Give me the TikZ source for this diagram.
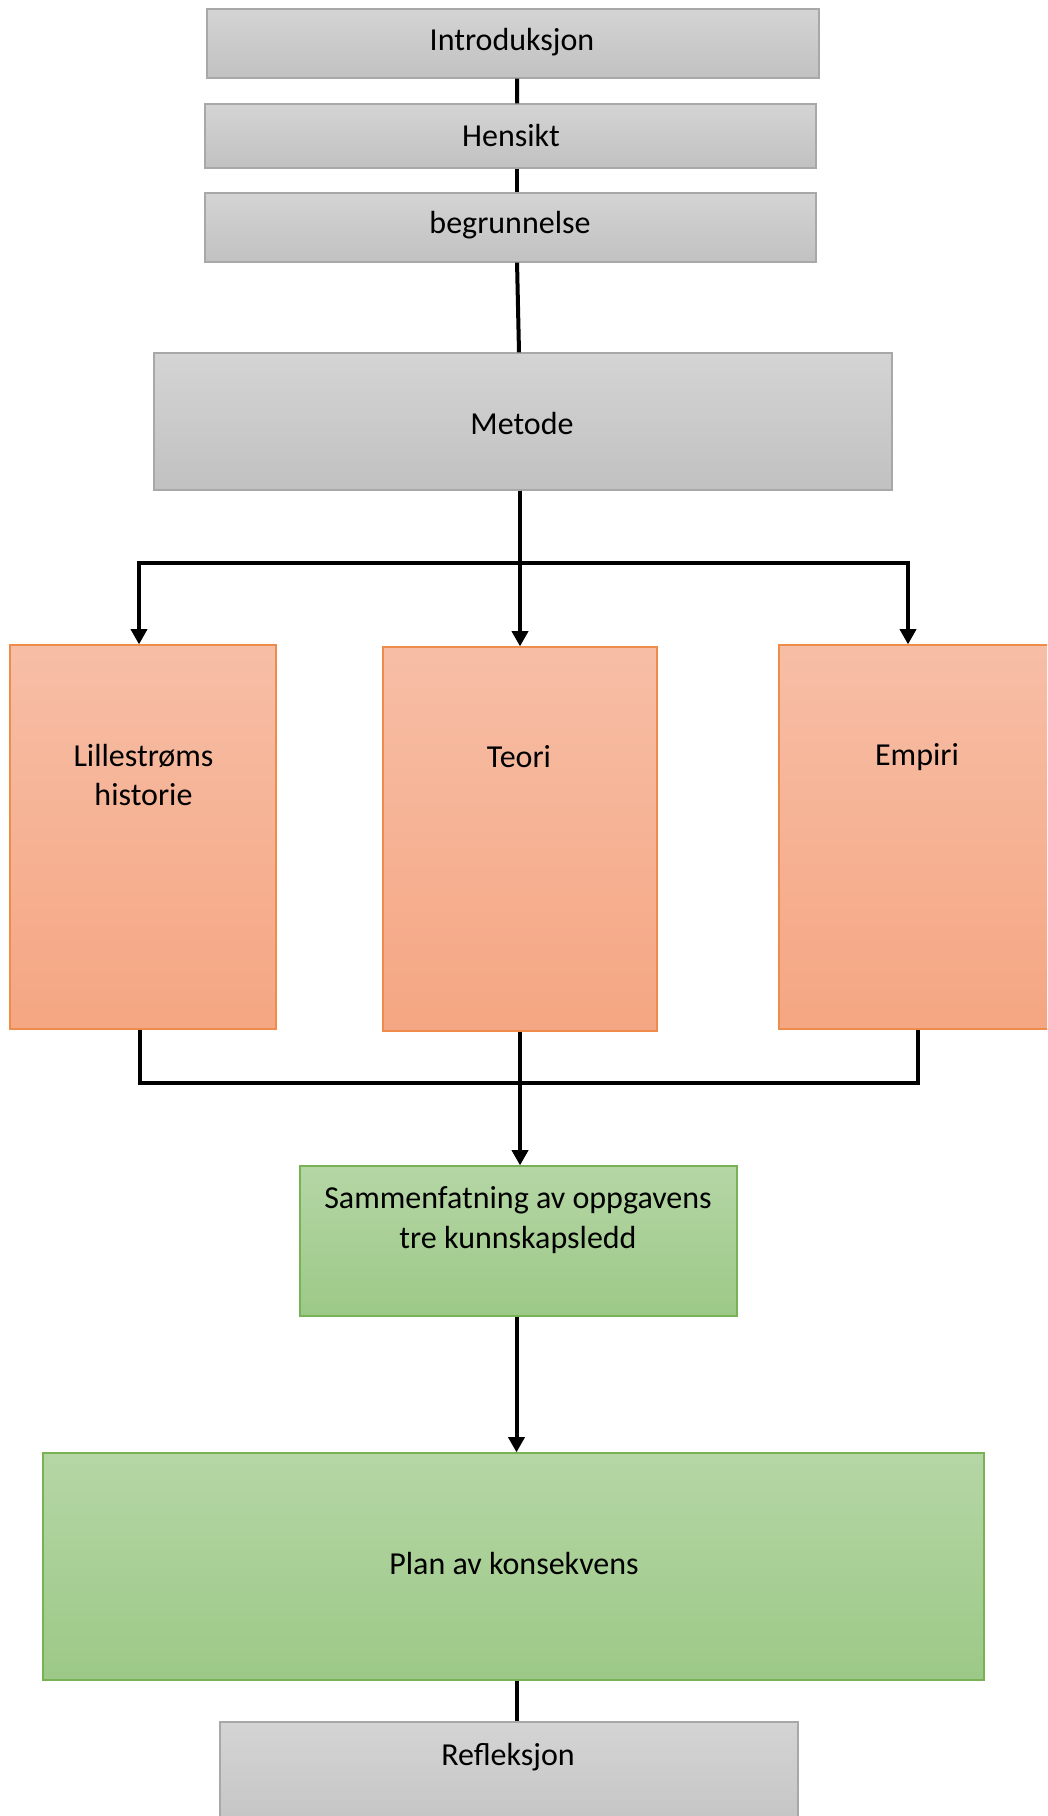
\documentclass[tikz,border=0pt]{standalone}
\usepackage{fontspec}
\setmainfont{Carlito}
\usetikzlibrary{fit,arrows.meta}
\definecolor{grayT}{HTML}{D4D4D4}
\definecolor{grayB}{HTML}{C1C1C1}
\definecolor{grayL}{HTML}{A8A8A8}
\definecolor{orT}{HTML}{F7BEA6}
\definecolor{orB}{HTML}{F5A682}
\definecolor{orL}{HTML}{EF8C4C}
\definecolor{grT}{HTML}{B5D6A5}
\definecolor{grB}{HTML}{9CC987}
\definecolor{grL}{HTML}{78B255}
\begin{document}
\begin{tikzpicture}[x=0.75pt,y=-0.75pt,
  every node/.style={font=\fontsize{24}{29.5}\selectfont, text=black},
  graybox/.style={draw=grayL, line width=0.9pt, top color=grayT, bottom color=grayB, inner sep=0pt},
  orbox/.style={draw=orL, line width=0.9pt, top color=orT, bottom color=orB, inner sep=0pt},
  grbox/.style={draw=grL, line width=0.9pt, top color=grT, bottom color=grB, inner sep=0pt},
  txt/.style={align=center, inner sep=0pt},
  conn/.style={line width=3pt, draw=black},
  arr/.style={conn, -{Triangle[length=11.5pt,width=12pt]}}]
\useasboundingbox (0,0) rectangle (1047,1816);
\clip (0,0) rectangle (1047,1816);
\fill[white] (0,0) rectangle (1047,1816);
% boxes
\node[graybox, fit={(207,9) (819,78)}] (intro) {};
\node[graybox, fit={(205,104) (816,168)}] (hens) {};
\node[graybox, fit={(205,193) (816,262)}] (begr) {};
\node[graybox, fit={(154,353) (892,490)}] (metode) {};
\node[orbox, fit={(10,645) (276,1029)}] (lille) {};
\node[orbox, fit={(383,647) (657,1031)}] (teori) {};
\node[orbox, fit={(779,645) (1057,1029)}] (empiri) {};
\node[grbox, fit={(300,1166) (737,1316)}] (sam) {};
\node[grbox, fit={(43,1453) (984,1680)}] (plan) {};
\node[graybox, fit={(220,1722) (798,1850)}] (refl) {};
% texts
\node[txt] (introT) at (512,42) {Introduksjon};
\node[txt] (hensT) at (511,136) {Hensikt};
\node[txt] (begrT) at (510,225) {begrunnelse};
\node[txt] (metodeT) at (522,424) {Metode};
\node[txt] (lilleT) at (143.5,775) {Lillestrøms\\historie};
\node[txt] (teoriT) at (519,757) {Teori};
\node[txt] (empiriT) at (917,757) {Empiri};
\node[txt] (samT) at (518,1220) {Sammenfatning av oppgavens\\tre kunnskapsledd};
\node[txt] (planT) at (514,1563) {Plan av konsekvens};
\node[txt] (reflT) at (508,1757) {Refleksjon};
% connectors
\draw[conn] ([xshift=3pt]intro.south) -- ([xshift=4.9pt]hens.north);
\draw[conn] ([xshift=4.9pt]hens.south) -- ([xshift=4.9pt]begr.north);
\draw[conn] ([xshift=4.9pt]begr.south) -- ([xshift=-3pt]metode.north);
\draw[arr] (teori.north |- metode.south) -- (teori.north);
\draw[arr] (teori.north |- metode.south) -- ++(0,72) -| ([xshift=-3pt]lille.north);
\draw[arr] (teori.north |- metode.south) -- ++(0,72) -| ([xshift=-7.5pt]empiri.north);
\draw[conn] ([xshift=-2.25pt]lille.south) -- ++(0,53) -| (empiri.south);
\draw[arr] (teori.south) -- (teori.south |- sam.north);
\draw[arr] ([xshift=-1.5pt]sam.south) -- ([xshift=-1.5pt]sam.south |- plan.north);
\draw[conn] ([xshift=2.25pt]plan.south) -- ([xshift=2.25pt]plan.south |- refl.north);
\end{tikzpicture}
\end{document}
